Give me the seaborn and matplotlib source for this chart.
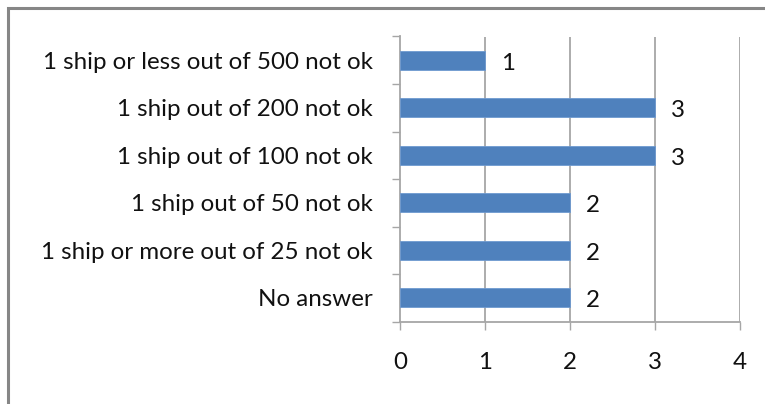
import matplotlib
matplotlib.use("Agg")
import matplotlib.pyplot as plt
import matplotlib.patches as mpatches
from matplotlib.ticker import FixedLocator
import seaborn as sns
import pandas as pd

categories = [
    "1 ship or less out of 500 not ok",
    "1 ship out of 200 not ok",
    "1 ship out of 100 not ok",
    "1 ship out of 50 not ok",
    "1 ship or more out of 25 not ok",
    "No answer",
]
counts = [1, 3, 3, 2, 2, 2]
x_ticks = [0, 1, 2, 3, 4]

df = pd.DataFrame({"category": categories, "count": counts})

sns.set_theme(style="white")
plt.rcParams["font.family"] = ["Lato", "DejaVu Sans"]

W, H = 765, 404
fig = plt.figure(figsize=(W / 100, H / 100), dpi=100)
ax = fig.add_axes([400 / W, (H - 321.7) / H, 340 / W, (321.7 - 36.5) / H])

grid_c = "#A6A6A6"
txt_c = "#111111"
fs = 17.4

sns.barplot(data=df, x="count", y="category", order=categories, orient="h",
            color="#4F81BD", width=0.4, saturation=1, ax=ax,
            edgecolor="#6F9AD0", linewidth=0.6, zorder=3)

ax.set_xlim(0, 4)
ax.set_ylim(len(categories) - 0.5, -0.5)
ax.set_xlabel("")
ax.set_ylabel("")

ax.set_xticks(x_ticks)
ax.set_xticklabels([str(t) for t in x_ticks])
for t in x_ticks[1:]:
    ax.axvline(t, color=grid_c, lw=1.3, zorder=1)

# category boundaries carry the y tick marks
ax.yaxis.set_minor_locator(FixedLocator([i - 0.5 for i in range(len(categories) + 1)]))
ax.tick_params(axis="y", which="major", length=0, pad=19.5, labelsize=fs,
               labelcolor=txt_c)
ax.tick_params(axis="y", which="minor", length=5.8, width=1, color=grid_c, left=True)
ax.tick_params(axis="x", which="major", length=5.8, width=1, color=grid_c,
               bottom=True, pad=16, labelsize=fs, labelcolor=txt_c)

for s in ["top", "right"]:
    ax.spines[s].set_visible(False)
for s in ["left", "bottom"]:
    ax.spines[s].set_color(grid_c)
    ax.spines[s].set_linewidth(1.3)

labels = ax.bar_label(ax.containers[0], labels=[str(v) for v in counts], padding=11.5,
                      fontsize=fs, color=txt_c)
# value labels sit slightly below the bar centre
for t in labels:
    dx, dy = t.xyann
    t.xyann = (dx, dy - 2.2)

# outer chart frame
fig.patches.append(mpatches.Rectangle((8 / W, -0.1), 1.1, (H - 8) / H + 0.1,
                                      transform=fig.transFigure, fill=False,
                                      edgecolor="#868686", linewidth=2.2))

fig.savefig("out.png", dpi=100)
